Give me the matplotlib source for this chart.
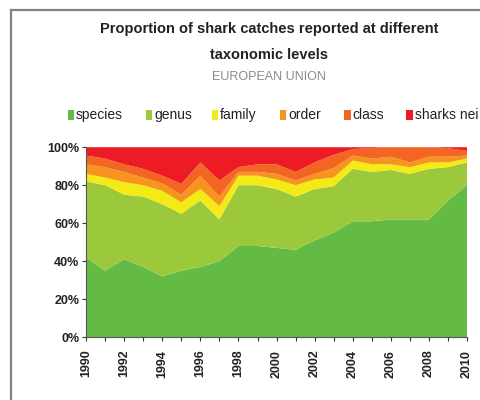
import matplotlib
matplotlib.use("Agg")
import matplotlib.pyplot as plt
from matplotlib.patches import Rectangle

FONT = ["Liberation Sans", "DejaVu Sans"]
plt.rcParams["font.family"] = FONT

years = list(range(1990, 2011))
categories = ["species", "genus", "family", "order", "class", "sharks nei"]
colors = ["#63bb46", "#9cc93c", "#f4ea16", "#f7941d", "#f26522", "#ed1c24"]

# share of catches (%) reported at each taxonomic level
species = [42, 35, 41, 37, 32, 35, 37, 40, 48, 48, 47, 46, 51, 55, 61, 61, 62, 62, 62, 72, 80]
genus = [40, 45, 34, 37, 38, 30, 35, 22, 32, 32, 31, 28, 27, 24.5, 27.6, 26, 26, 24, 26.6, 17.5, 12]
family = [4, 4, 6.6, 6, 7, 6, 6, 7, 5, 5, 5, 6, 5, 4.5, 4.4, 4, 3, 3.5, 3.4, 2.5, 2]
order = [5, 5.5, 5.4, 4, 4, 4, 7, 5, 2, 2, 3, 2.5, 3, 5, 2.6, 3, 4, 2.5, 3, 3, 1.6]
class_ = [4.6, 4.5, 4, 4.6, 4, 5.7, 7, 8.5, 2.5, 4, 5, 4.5, 6, 7, 3.4, 5.6, 5, 8, 5, 4.5, 2.4]
sharks_nei = [4.4, 6, 9, 11.4, 15, 19.3, 8, 17.5, 10.5, 9, 9, 13, 8, 4, 1, 0.4, 0, 0, 0, 0.5, 2]

series = [species, genus, family, order, class_, sharks_nei]
yticks = [0, 20, 40, 60, 80, 100]
ytick_labels = ["0%", "20%", "40%", "60%", "80%", "100%"]
xtick_years = list(range(1990, 2011, 2))

fig = plt.figure(figsize=(4.81, 4.0), dpi=100)
fig.patch.set_facecolor("white")

ax = fig.add_axes([0.179, 0.157, 0.792, 0.475])
ax.stackplot(years, *series, colors=colors, linewidth=0)
ax.set_xlim(1990, 2010)
ax.set_ylim(0, 100)

ax.set_yticks(yticks)
ax.set_yticklabels(ytick_labels, fontsize=9, fontweight="bold", color="#222222")
ax.set_xticks(years)
ax.set_xticklabels([str(y) if y in xtick_years else "" for y in years],
                   rotation=90, fontsize=9, fontweight="bold", color="#222222")
ax.tick_params(axis="both", direction="out", length=3, width=0.8, color="#333333", pad=2)
ax.tick_params(axis="x", pad=6)
for side in ["top", "right"]:
    ax.spines[side].set_visible(False)
for side in ["left", "bottom"]:
    ax.spines[side].set_color("#555555")
    ax.spines[side].set_linewidth(0.8)

# titles
fig.text(0.56, 0.928, "Proportion of shark catches reported at different",
         ha="center", va="center", fontsize=10.5, fontweight="bold", color="#222222")
fig.text(0.56, 0.862, "taxonomic levels",
         ha="center", va="center", fontsize=10.5, fontweight="bold", color="#222222")
fig.text(0.56, 0.808, "EUROPEAN UNION",
         ha="center", va="center", fontsize=9, color="#8a8a8a")

# legend row
legend_x = [0.141, 0.303, 0.440, 0.582, 0.716, 0.845]
ly = 0.712
for x, c, lab in zip(legend_x, colors, categories):
    fig.patches.append(Rectangle((x, ly - 0.013), 0.013, 0.027, transform=fig.transFigure,
                                 facecolor=c, edgecolor="none"))
    fig.text(x + 0.017, ly, lab, ha="left", va="center", fontsize=10, color="#222222")

# outer frame
fig.add_artist(plt.Line2D([0.023, 0.023], [0.0, 0.975], transform=fig.transFigure,
                          color="#808080", linewidth=1.6))
fig.add_artist(plt.Line2D([0.023, 1.0], [0.975, 0.975], transform=fig.transFigure,
                          color="#808080", linewidth=1.6))

fig.savefig("out.png", dpi=100, facecolor="white")
